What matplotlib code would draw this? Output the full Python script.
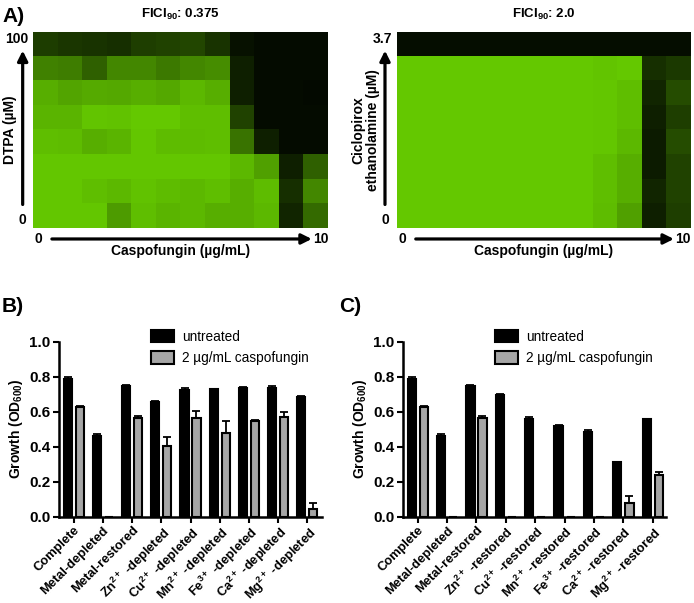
import numpy as np
import matplotlib
matplotlib.use('Agg')
import matplotlib.pyplot as plt
from matplotlib.colors import LinearSegmentedColormap
from matplotlib.patches import Patch

plt.rcParams['font.family'] = ['Liberation Sans', 'DejaVu Sans']
plt.rcParams['mathtext.fontset'] = 'custom'
plt.rcParams['mathtext.rm'] = 'Liberation Sans'
plt.rcParams['mathtext.bf'] = 'Liberation Sans:bold'
plt.rcParams['mathtext.it'] = 'Liberation Sans:italic'

# checkerboard growth (fraction of max), rows top (high conc) -> bottom (0)
dtpa_grid = [
    [0.27, 0.24, 0.22, 0.20, 0.28, 0.30, 0.32, 0.22, 0.05, 0.02, 0.02, 0.02],
    [0.62, 0.60, 0.45, 0.65, 0.65, 0.58, 0.65, 0.68, 0.12, 0.02, 0.02, 0.02],
    [0.85, 0.80, 0.83, 0.82, 0.85, 0.82, 0.90, 0.85, 0.12, 0.02, 0.02, 0.01],
    [0.88, 0.88, 0.96, 0.95, 0.98, 0.98, 0.93, 0.93, 0.30, 0.02, 0.02, 0.02],
    [0.93, 0.92, 0.85, 0.88, 0.97, 0.92, 0.92, 0.93, 0.55, 0.12, 0.02, 0.02],
    [0.97, 0.97, 0.97, 0.97, 0.97, 0.97, 0.97, 0.97, 0.90, 0.78, 0.12, 0.45],
    [0.97, 0.97, 0.93, 0.90, 0.95, 0.92, 0.90, 0.93, 0.85, 0.92, 0.20, 0.65],
    [0.97, 0.97, 0.97, 0.75, 0.93, 0.88, 0.90, 0.85, 0.85, 0.90, 0.15, 0.50],
]
cpx_grid = [
    [0.03, 0.03, 0.03, 0.03, 0.03, 0.03, 0.03, 0.03, 0.03, 0.03, 0.03, 0.03],
    [0.98, 0.98, 0.98, 0.98, 0.98, 0.98, 0.98, 0.98, 0.96, 0.98, 0.20, 0.25],
    [0.98, 0.98, 0.98, 0.98, 0.98, 0.98, 0.98, 0.98, 0.97, 0.93, 0.15, 0.35],
    [0.98, 0.98, 0.98, 0.98, 0.98, 0.98, 0.98, 0.98, 0.97, 0.93, 0.12, 0.28],
    [0.98, 0.98, 0.98, 0.98, 0.98, 0.98, 0.98, 0.98, 0.97, 0.90, 0.10, 0.35],
    [0.98, 0.98, 0.98, 0.98, 0.98, 0.98, 0.98, 0.98, 0.93, 0.85, 0.10, 0.30],
    [0.98, 0.98, 0.98, 0.98, 0.98, 0.98, 0.98, 0.98, 0.93, 0.85, 0.15, 0.30],
    [0.98, 0.98, 0.98, 0.98, 0.98, 0.98, 0.98, 0.98, 0.92, 0.78, 0.12, 0.28],
]

labels_b = ['Complete', 'Metal-depleted', 'Metal-restored',
            r'Zn$^{\mathbf{2+}}$ -depleted', r'Cu$^{\mathbf{2+}}$ -depleted',
            r'Mn$^{\mathbf{2+}}$ -depleted', r'Fe$^{\mathbf{3+}}$ -depleted',
            r'Ca$^{\mathbf{2+}}$ -depleted', r'Mg$^{\mathbf{2+}}$ -depleted']
untreated_b = [0.787, 0.459, 0.747, 0.657, 0.724, 0.728, 0.737, 0.733, 0.684]
untreated_b_err = [0.011, 0.015, 0.003, 0.004, 0.013, 0.004, 0.003, 0.014, 0.003]
caspo_b = [0.625, 0.0, 0.562, 0.406, 0.562, 0.480, 0.549, 0.571, 0.044]
caspo_b_err = [0.009, 0.0, 0.013, 0.051, 0.042, 0.069, 0.003, 0.029, 0.032]

labels_c = ['Complete', 'Metal-depleted', 'Metal-restored',
            r'Zn$^{\mathbf{2+}}$ -restored', r'Cu$^{\mathbf{2+}}$ -restored',
            r'Mn$^{\mathbf{2+}}$ -restored', r'Fe$^{\mathbf{3+}}$ -restored',
            r'Ca$^{\mathbf{2+}}$ -restored', r'Mg$^{\mathbf{2+}}$ -restored']
untreated_c = [0.787, 0.459, 0.747, 0.697, 0.556, 0.516, 0.482, 0.312, 0.556]
untreated_c_err = [0.011, 0.015, 0.003, 0.002, 0.012, 0.010, 0.011, 0.002, 0.002]
caspo_c = [0.625, 0.0, 0.562, 0.0, 0.0, 0.0, 0.0, 0.076, 0.236]
caspo_c_err = [0.009, 0.0, 0.013, 0.0, 0.0, 0.0, 0.0, 0.044, 0.017]

W, H = 694, 603
green_cmap = LinearSegmentedColormap.from_list('grn', ['#030800', '#66cc00'])


def fig_rect(left, top, right, bottom):
    return [left / W, 1 - bottom / H, (right - left) / W, (bottom - top) / H]


def arrow(ax, start, end):
    ax.annotate('', xy=end, xytext=start, xycoords='axes fraction',
                textcoords='axes fraction', annotation_clip=False,
                arrowprops=dict(arrowstyle='-|>,head_length=0.6,head_width=0.3',
                                color='black', lw=2.3, shrinkA=0, shrinkB=0))


def heatmap(ax, grid, title, ytop, ylabel, ylabel_x, yarrow_x, ytop_x):
    ax.imshow(np.array(grid), cmap=green_cmap, vmin=0, vmax=1,
              aspect='auto', interpolation='nearest')
    ax.axis('off')
    bold = dict(fontweight='bold', fontsize=10, transform=ax.transAxes)
    ax.text(0.5, 1.087, title, ha='center', va='center', fontsize=9.5,
            fontweight='bold', transform=ax.transAxes)
    ax.text(ytop_x, 0.964, ytop, ha='center', va='center', **bold)
    ax.text(yarrow_x, 0.041, '0', ha='center', va='center', **bold)
    ax.text(ylabel_x, 0.5, ylabel, ha='center', va='center', rotation=90,
            linespacing=1.1, **bold)
    arrow(ax, (yarrow_x, 0.12), (yarrow_x, 0.905))
    ax.text(0.017, -0.056, '0', ha='center', va='center', **bold)
    ax.text(0.975, -0.056, '10', ha='center', va='center', **bold)
    arrow(ax, (0.064, -0.056), (0.945, -0.056))
    ax.text(0.5, -0.115, 'Caspofungin (µg/mL)', ha='center', va='center', **bold)


def bar_panel(ax, labels, unt, unt_err, cas, cas_err, xmax):
    x = np.arange(len(labels))
    zeros = np.zeros(len(labels))
    ax.bar(x - 0.205, unt, width=0.28, color='black', edgecolor='black', lw=1.5,
           yerr=[zeros, unt_err], capsize=2.6,
           error_kw=dict(lw=1.3, capthick=1.3, ecolor='black'), zorder=2)
    ax.bar(x + 0.205, cas, width=0.28, color='#a6a6a6', edgecolor='black', lw=1.5,
           yerr=[zeros, cas_err], capsize=2.6,
           error_kw=dict(lw=1.3, capthick=1.3, ecolor='black'), zorder=2)
    ax.set_xlim(-0.5, xmax)
    ax.set_ylim(0, 1.0)
    ax.set_yticks(np.arange(0, 1.01, 0.2))
    ax.set_yticklabels(['%.1f' % v for v in np.arange(0, 1.01, 0.2)],
                       fontweight='bold', fontsize=11)
    ax.set_xticks(x)
    ax.set_xticklabels(labels, rotation=45, ha='right', rotation_mode='anchor',
                       fontweight='bold', fontsize=9.3)
    for s in ['top', 'right']:
        ax.spines[s].set_visible(False)
    for s in ['left', 'bottom']:
        ax.spines[s].set_linewidth(1.8)
    ax.tick_params(axis='both', direction='out', length=4, width=1.5, pad=2)
    ax.tick_params(axis='x', pad=1.5)
    ax.set_ylabel(r'Growth (OD$_{\mathbf{600}}$)', fontweight='bold', fontsize=10,
                  labelpad=3)
    handles = [Patch(facecolor='black', edgecolor='black', lw=1.5),
               Patch(facecolor='#a6a6a6', edgecolor='black', lw=1.5)]
    ax.legend(handles, ['untreated', '2 µg/mL caspofungin'], loc='upper left',
              bbox_to_anchor=(0.33, 1.10), frameon=False, fontsize=9.8,
              handlelength=1.65, handleheight=1.05, labelspacing=0.55,
              handletextpad=0.6, borderaxespad=0)


fig = plt.figure(figsize=(W / 100, H / 100), dpi=100)

ax_a1 = fig.add_axes(fig_rect(33, 32, 328, 228))
heatmap(ax_a1, dtpa_grid, r'FICI$_{\mathbf{90}}$: 0.375', '100', 'DTPA (µM)',
        -0.078, -0.035, -0.055)
ax_a2 = fig.add_axes(fig_rect(397, 32, 690, 228))
heatmap(ax_a2, cpx_grid, r'FICI$_{\mathbf{90}}$: 2.0', '3.7',
        'Ciclopirox\nethanolamine (µM)', -0.107, -0.041, -0.051)

ax_b = fig.add_axes(fig_rect(59, 341.7, 322, 516.7))
bar_panel(ax_b, labels_b, untreated_b, untreated_b_err, caspo_b, caspo_b_err, 8.5)
ax_c = fig.add_axes(fig_rect(403, 341.7, 666, 516.7))
bar_panel(ax_c, labels_c, untreated_c, untreated_c_err, caspo_c, caspo_c_err, 8.45)

fig.text(2 / W, 1 - 16 / H, 'A)', fontsize=15, fontweight='bold', va='center')
fig.text(2 / W, 1 - 306 / H, 'B)', fontsize=15, fontweight='bold', va='center')
fig.text(339 / W, 1 - 306 / H, 'C)', fontsize=15, fontweight='bold', va='center')

fig.savefig('out.png', dpi=100)
